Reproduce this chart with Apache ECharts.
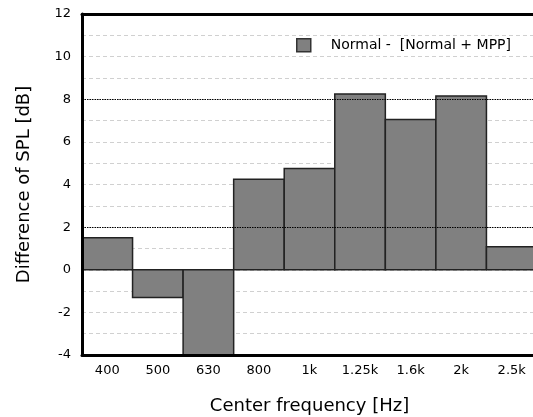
<!DOCTYPE html>
<html><head><meta charset="utf-8">
<script src="https://cdn.jsdelivr.net/npm/echarts@6/dist/echarts.min.js"></script>
<style>html,body{margin:0;padding:0;background:#fff}#c{width:533px;height:417px}</style>
</head><body><div id="c"></div>
<script>
var categories = ['400','500','630','800','1k','1.25k','1.6k','2k','2.5k'];
var values = [1.5, -1.3, -4, 4.25, 4.75, 8.25, 7.05, 8.15, 1.08];
var seriesName = 'Normal -  [Normal + MPP]';
var refLines = [2, 8];
var yMin = -4, yMax = 12, yStep = 2;
var xTitle = 'Center frequency [Hz]';
var yTitle = 'Difference of SPL [dB]';

var font = 'DejaVu Sans';
var axisLineStyle = {show: true, onZero: false, lineStyle: {color: '#000', width: 3}};
var chart = echarts.init(document.getElementById('c'), null, {renderer:'canvas'});
chart.setOption({
  animation: false,
  backgroundColor: '#fff',
  grid: {left: 82, top: 14, right: -4, bottom: 62, show: false,
         outerBoundsMode: 'none', containLabel: false},
  legend: {
    left: 291, top: 33, itemWidth: 14, itemHeight: 13, icon: 'rect',
    data: [{name: seriesName, icon: 'rect'}],
    textStyle: {fontFamily: font, fontSize: 14, color: '#000', padding: [0,0,0,15]},
    itemStyle: {color: '#808080', borderColor: '#333', borderWidth: 1.5}
  },
  xAxis: [{
    type: 'category', data: categories, boundaryGap: true, position: 'bottom',
    axisLine: axisLineStyle, axisTick: {show: false},
    axisLabel: {fontFamily: font, fontSize: 13, color: '#000', margin: 9, interval: 0},
    name: xTitle, nameLocation: 'middle', nameGap: 42,
    nameTextStyle: {fontFamily: font, fontSize: 18, color: '#000'},
    z: 5
  }, {
    type: 'category', data: categories, boundaryGap: true, position: 'top',
    axisLine: axisLineStyle, axisTick: {show: false}, axisLabel: {show: false},
    splitLine: {show: false}, z: 5
  }],
  yAxis: [{
    type: 'value', min: yMin, max: yMax, interval: yStep,
    axisLine: {show: false}, axisTick: {show: false}, axisLabel: {show: false},
    splitLine: {show: true, showMinLine: false, showMaxLine: false, lineStyle: {color: '#d0d0d0', type: [4,3], width: 1}},
    minorTick: {show: false, splitNumber: 2},
    minorSplitLine: {show: true, lineStyle: {color: '#d0d0d0', type: [4,3], width: 1}},
    z: 0
  }, {
    type: 'value', min: yMin, max: yMax, interval: yStep, position: 'left',
    axisLine: axisLineStyle, axisTick: {show: false},
    axisLabel: {fontFamily: font, fontSize: 13, color: '#000', margin: 11},
    splitLine: {show: false},
    name: yTitle, nameLocation: 'middle', nameGap: 49, nameRotate: 90,
    nameTextStyle: {fontFamily: font, fontSize: 18, color: '#000'},
    z: 5
  }],
  series: [{
    name: 'ref', type: 'line', data: [], z: 1, silent: true,
    markLine: {
      silent: true, symbol: 'none', label: {show: false},
      lineStyle: {color: '#000', type: [1.5,1], width: 1},
      data: refLines.map(function(v){return {yAxis: v};})
    }
  }, {
    name: seriesName, type: 'custom',
    data: values.map(function(v, i){ return [i, v]; }),
    encode: {x: 0, y: 1},
    itemStyle: {color: '#808080', borderColor: '#222', borderWidth: 1.5},
    renderItem: function(params, api) {
      var i = api.value(0), v = api.value(1);
      var p0 = api.coord([i, 0]);
      var p1 = api.coord([i, v]);
      var w = api.size([1, 0])[0];
      var rect = echarts.graphic.clipRectByRect({
        x: p0[0] - w / 2, y: Math.min(p0[1], p1[1]), width: w, height: Math.abs(p1[1] - p0[1])
      }, {x: params.coordSys.x, y: params.coordSys.y, width: params.coordSys.width, height: params.coordSys.height});
      return rect && {type: 'rect', shape: rect,
        style: {fill: '#808080', stroke: '#222', lineWidth: 1.5}};
    },
    z: 3
  }]
});
</script></body></html>
